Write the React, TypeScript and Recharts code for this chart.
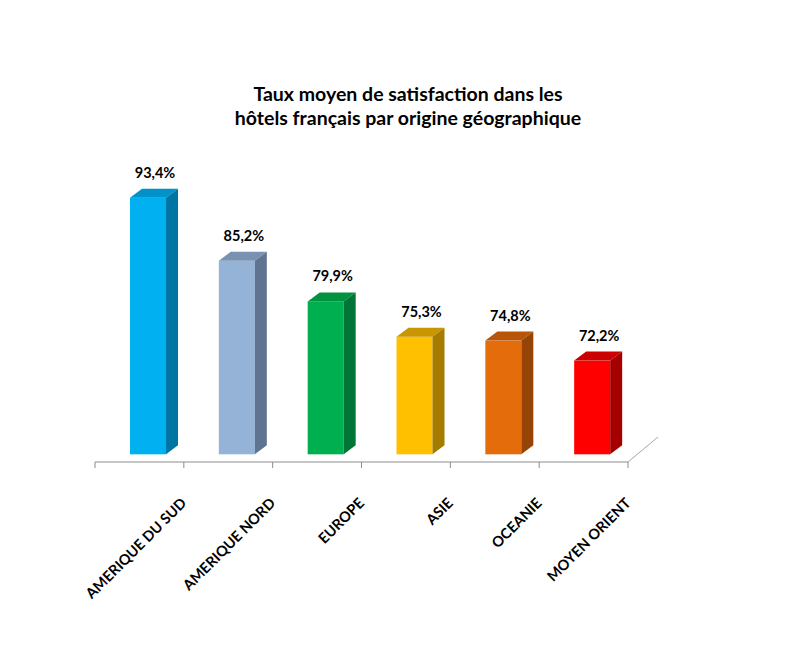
import React from 'react';
import { BarChart, Bar, XAxis, YAxis, LabelList } from 'recharts';

const regions = ['AMERIQUE DU SUD', 'AMERIQUE NORD', 'EUROPE', 'ASIE', 'OCEANIE', 'MOYEN ORIENT'];
const satisfaction = [93.4, 85.2, 79.9, 75.3, 74.8, 72.2];
const valueLabels = ['93,4%', '85,2%', '79,9%', '75,3%', '74,8%', '72,2%'];
const BASE = 60;

// front / top / side shades for each bar
const palette = [
  { front: '#00B0F0', top: '#0092C8', side: '#0075A3' },
  { front: '#95B3D7', top: '#7A92B2', side: '#5F7490' },
  { front: '#00B050', top: '#00923F', side: '#007535' },
  { front: '#FFC000', top: '#C89600', side: '#A67C00' },
  { front: '#E46C0A', top: '#B85508', side: '#964406' },
  { front: '#FF0000', top: '#CC0000', side: '#A50000' },
];

const data = regions.map((name, i) => ({
  name,
  value: satisfaction[i],
  label: valueLabels[i],
}));

const FONT = 'Lato, "Open Sans", sans-serif';
const SHIFT = 9; // bar sits half way back on the 3d floor
const DX = 12;
const DY = 9;
const BAND = 533 / regions.length;

const Bar3D = (props: any) => {
  const { y, width, height, index } = props;
  const x = props.x + SHIFT;
  const c = palette[index];
  const b = y + height;
  return (
    <g>
      <rect x={x} y={y} width={width} height={height} fill={c.front} />
      <polygon
        points={`${x},${y} ${x + DX},${y - DY} ${x + width + DX},${y - DY} ${x + width},${y}`}
        fill={c.top}
      />
      <polygon
        points={`${x + width},${y} ${x + width + DX},${y - DY} ${x + width + DX},${b - DY} ${x + width},${b}`}
        fill={c.side}
      />
    </g>
  );
};

const ValueLabel = (props: any) => {
  const { x, y, width, value } = props;
  return (
    <text
      x={x + SHIFT + width / 2 + 7}
      y={y - 20}
      textAnchor="middle"
      fontFamily={FONT}
      fontWeight={700}
      fontSize={14.5}
      fill="#000"
    >
      {value}
    </text>
  );
};

const RegionTick = (props: any) => {
  const { x, y, payload, index } = props;
  const last = index === regions.length - 1;
  return (
    <g transform={`translate(${x},${y})`}>
      <line x1={-BAND / 2} y1={0} x2={-BAND / 2} y2={6} stroke="#8C8C8C" />
      {last && <line x1={BAND / 2} y1={0} x2={BAND / 2} y2={6} stroke="#8C8C8C" />}
      {last && <line x1={BAND / 2} y1={0} x2={BAND / 2 + 30} y2={-25} stroke="#A6A6A6" />}
      <text
        transform={`translate(48,42) rotate(-45)`}
        textAnchor="end"
        fontFamily={FONT}
        fontWeight={700}
        fontSize={14.5}
        fill="#000"
      >
        {payload.value}
      </text>
    </g>
  );
};

export default function App() {
  return (
    <div style={{ position: 'relative', width: 800, height: 660, background: '#fff' }}>
      <div
        style={{
          position: 'absolute',
          top: 74,
          left: 0,
          width: 800,
          textAlign: 'center',
          fontFamily: FONT,
          fontWeight: 700,
          fontSize: 19.5,
          lineHeight: '24px',
          color: '#000',
        }}
      >
        Taux moyen de satisfaction dans les
        <br />
        hôtels français par origine géographique
      </div>
      <BarChart
        width={800}
        height={660}
        data={data}
        margin={{ top: 139, right: 180, bottom: 86, left: 87 }}
      >
        <YAxis hide domain={[59, 100]} />
        <XAxis
          dataKey="name"
          interval={0}
          height={120}
          tickSize={0}
          tickMargin={0}
          axisLine={{ stroke: '#8C8C8C' }}
          tick={<RegionTick />}
        />
        <Bar dataKey={(d: any) => [BASE, d.value]} barSize={36} shape={<Bar3D />} isAnimationActive={false}>
          <LabelList dataKey="label" content={<ValueLabel />} />
        </Bar>
      </BarChart>
    </div>
  );
}
